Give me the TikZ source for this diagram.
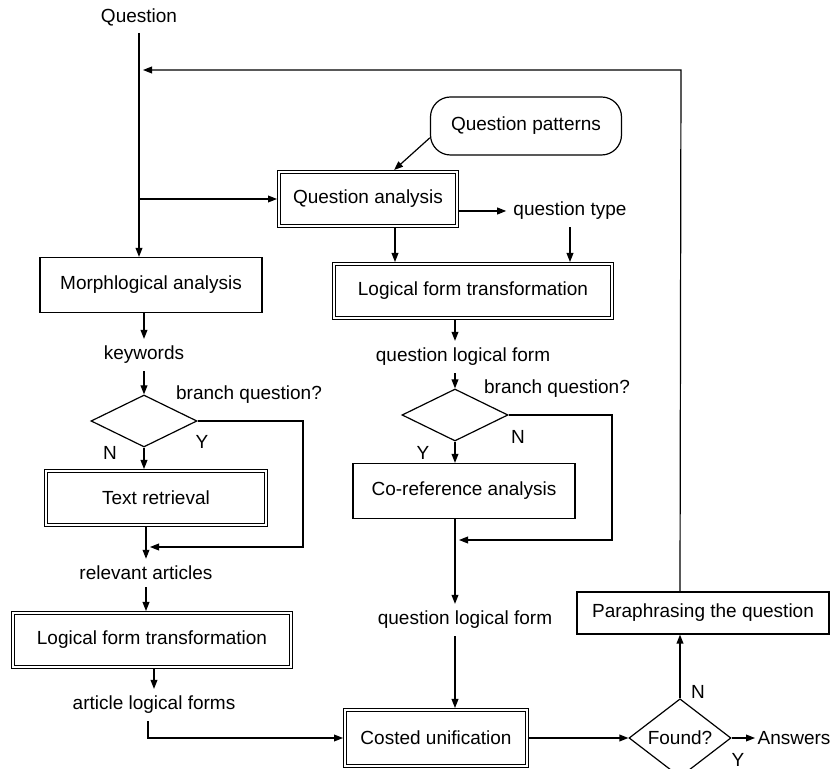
\documentclass[tikz,border=0pt]{standalone}
\usepackage{fontspec}
\setmainfont{Liberation Sans}
\usetikzlibrary{shapes.geometric, arrows.meta}

\begin{document}
\begin{tikzpicture}[x=0.5pt, y=-0.5pt, line width=0.6pt,
  >={Triangle[length=4.5pt,width=3.4pt]},
  every node/.style={font=\fontsize{9.5}{11}\selectfont},
  box/.style={draw, rectangle, inner sep=0pt, minimum width=111pt, minimum height=27.5pt},
  dbox/.style={draw, double, double distance=1pt, line width=0.5pt, rectangle, inner sep=0pt, outer sep=1pt, minimum height=27pt},
  decision/.style={draw, diamond, inner sep=0pt, minimum width=53pt, minimum height=26pt}]
\useasboundingbox (0,0) rectangle (832,769);

\node (q) at (139,17) {Question};
\node[box] (morph) at (151,285) {Morphlogical analysis};
\node (kw) at (144,355) {keywords};
\node[decision] (d1) at (144,421) {};
\node (bq1) at (249,395) {branch question?};
\node (y1) at (202,442) {Y};
\node (n1) at (110,453) {N};
\node[dbox, minimum width=110pt] (tr) at (156,498) {Text retrieval};
\coordinate (c1) at (303,547);
\node (rel) at (146,573) {relevant articles};
\node[dbox, minimum width=139pt] (lft2) at (152,640) {Logical form transformation};
\node (alf) at (154,705) {article logical forms};

\node[draw, rounded corners=10pt, minimum width=95.5pt, minimum height=29pt] (qp) at (526,126) {Question patterns};
\node[dbox, minimum width=89pt] (qa) at (368,199) {Question analysis};
\node (qt) at (570,211) {question type};
\node[dbox, minimum width=139pt] (lft1) at (473,291) {Logical form transformation};
\node (qlf1) at (463,357) {question logical form};
\node[decision] (d2) at (455,415) {};
\node (bq2) at (557,389) {branch question?};
\node (n2) at (518,437) {N};
\node (y2) at (423,453) {Y};
\node[box] (coref) at (464,491) {Co-reference analysis};
\coordinate (c2) at (612,540);
\node (qlf2) at (465,620) {question logical form};
\node[dbox, minimum width=91pt, minimum height=28pt] (cu) at (436,738) {Costed unification};
\node[decision, minimum width=51pt, minimum height=25.5pt] (found) at (680,738) {Found?};
\node[anchor=west, inner sep=1pt] (ans) at (755,738) {Answers};
\node[box, minimum width=126pt, minimum height=21pt] (para) at (703,613) {Paraphrasing the question};
\node (nf) at (698,692) {N};
\node (yf) at (738,760) {Y};
\coordinate (top) at (681,70);
\coordinate (fb) at (143,70);

\draw[->] (q) -- (q |- morph.north);
\draw[->] (q |- qa.west) -- (qa.west);
\draw[->] (morph.south -| kw) -- (kw);
\draw[->] (kw) -- (d1.north);
\draw[->] (d1.south) -- (d1.south |- tr.north);
\draw[->, shorten >=2pt] (d1.east) -| (c1) -- (c1 -| rel);
\draw[->] (tr.south -| rel) -- (rel);
\draw[->] (rel) -- (rel |- lft2.north);
\draw[->] (lft2.south -| alf) -- (alf);
\draw[->] ([xshift=-3pt]alf.south) |- (cu.west);

\draw[->] (qp.187) -- (qa.48);
\draw[->] (qa.east |- qt) -- (qt);
\draw[->] (qt) -- (qt |- lft1.north);
\draw[->] ([xshift=13.5pt]qa.south) -- ([xshift=13.5pt]qa.south |- lft1.north);
\draw[->] (lft1.south -| d2) -- (d2 |- qlf1.north);
\draw[->] (d2 |- qlf1.south) -- (d2.north);
\draw[->] (d2.south) -- (d2 |- coref.north);
\draw[->, shorten >=2pt] (d2.east) -| (c2) -- (c2 -| d2);
\draw[->] (d2 |- coref.south) -- (d2 |- qlf2.north);
\draw[->] (d2 |- qlf2.south) -- (d2 |- cu.north);
\draw[->] (cu.east) -- (found.west);
\draw[->] (found.east) -- (ans);
\draw[->] (found.north) -- (found.north |- para.south);
\draw[->] (found.north |- para.north) -- (top) -- (fb);
\end{tikzpicture}
\end{document}
